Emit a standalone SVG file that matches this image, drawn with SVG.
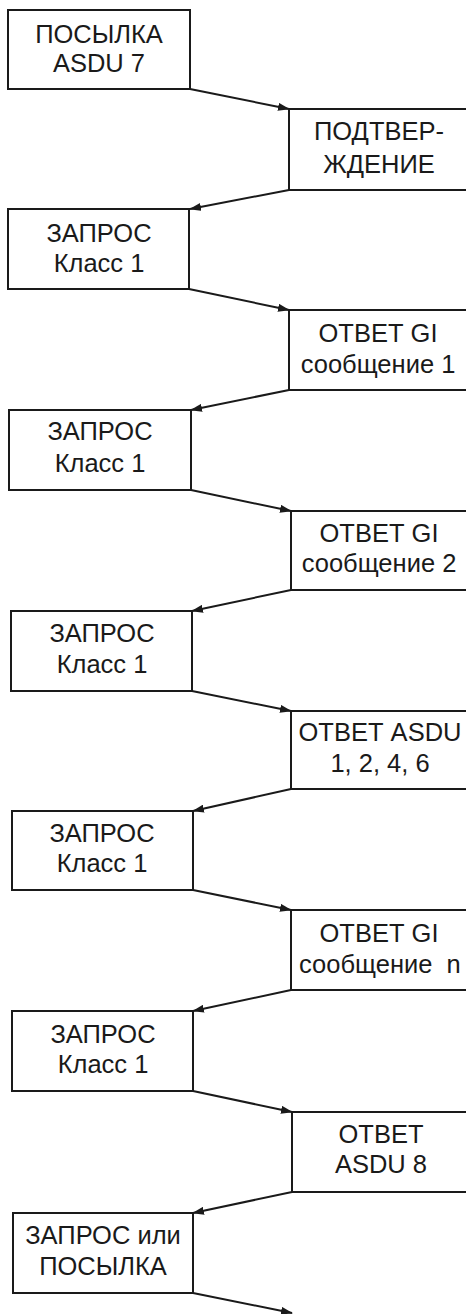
<svg xmlns="http://www.w3.org/2000/svg" width="466" height="1314" viewBox="0 0 466 1314">
<style>
.box{fill:#fff;stroke:#1a1a1a;stroke-width:2}
.t{font-family:"Liberation Sans",Arial,sans-serif;font-size:25.5px;fill:#1a1a1a;text-anchor:middle}
.c{stroke:#1a1a1a;stroke-width:2;fill:none;marker-end:url(#ah)}
</style>
<defs>
<marker id="ah" markerUnits="userSpaceOnUse" markerWidth="12" markerHeight="8" refX="11" refY="4" orient="auto">
<path d="M0,0 L12,4 L0,8 z" fill="#1a1a1a"/>
</marker>
</defs>
<rect width="466" height="1314" fill="#fff"/>
<g id="n1"><rect class="box" x="8" y="10" width="182" height="79"/><text class="t" x="99" y="43">ПОСЫЛКА</text><text class="t" x="99" y="72">ASDU 7</text></g>
<g id="n2"><rect class="box" x="289" y="109" width="200" height="81"/><text class="t" x="379" y="140">ПОДТВЕР-</text><text class="t" x="379" y="173">ЖДЕНИЕ</text></g>
<g id="n3"><rect class="box" x="8" y="209" width="181" height="80"/><text class="t" x="99" y="242">ЗАПРОС</text><text class="t" x="99" y="272">Класс 1</text></g>
<g id="n4"><rect class="box" x="289" y="310" width="200" height="80"/><text class="t" x="378" y="342">ОТВЕТ GI</text><text class="t" x="378" y="373">сообщение 1</text></g>
<g id="n5"><rect class="box" x="9" y="410" width="182" height="80"/><text class="t" x="100" y="440">ЗАПРОС</text><text class="t" x="100" y="472">Класс 1</text></g>
<g id="n6"><rect class="box" x="291" y="511" width="200" height="79"/><text class="t" x="379" y="542">ОТВЕТ GI</text><text class="t" x="379" y="572">сообщение 2</text></g>
<g id="n7"><rect class="box" x="11" y="611" width="181" height="80"/><text class="t" x="102" y="642">ЗАПРОС</text><text class="t" x="102" y="673">Класс 1</text></g>
<g id="n8"><rect class="box" x="291" y="711" width="200" height="78"/><text class="t" x="380" y="741">ОТВЕТ ASDU</text><text class="t" x="380" y="772">1, 2, 4, 6</text></g>
<g id="n9"><rect class="box" x="12" y="811" width="181" height="79"/><text class="t" x="102" y="842">ЗАПРОС</text><text class="t" x="102" y="872">Класс 1</text></g>
<g id="n10"><rect class="box" x="291" y="910" width="200" height="80"/><text class="t" x="379" y="942">ОТВЕТ GI</text><text class="t" x="299" y="973" style="text-anchor:start;white-space:pre">сообщение  n</text></g>
<g id="n11"><rect class="box" x="12" y="1011" width="181" height="80"/><text class="t" x="103" y="1043">ЗАПРОС</text><text class="t" x="103" y="1073">Класс 1</text></g>
<g id="n12"><rect class="box" x="292" y="1112" width="200" height="80"/><text class="t" x="381" y="1143">ОТВЕТ</text><text class="t" x="381" y="1173">ASDU 8</text></g>
<g id="n13"><rect class="box" x="13" y="1213" width="180" height="80"/><text class="t" x="103" y="1244">ЗАПРОС или</text><text class="t" x="103" y="1275">ПОСЫЛКА</text></g>
<g id="connectors">
<line class="c" x1="190" y1="89" x2="289" y2="109"/>
<line class="c" x1="289" y1="190" x2="190" y2="209"/>
<line class="c" x1="189" y1="289" x2="289" y2="310"/>
<line class="c" x1="289" y1="390" x2="191" y2="410"/>
<line class="c" x1="191" y1="490" x2="291" y2="511"/>
<line class="c" x1="291" y1="590" x2="192" y2="611"/>
<line class="c" x1="192" y1="691" x2="291" y2="711"/>
<line class="c" x1="291" y1="789" x2="193" y2="811"/>
<line class="c" x1="193" y1="890" x2="291" y2="910"/>
<line class="c" x1="291" y1="990" x2="193" y2="1011"/>
<line class="c" x1="193" y1="1091" x2="292" y2="1112"/>
<line class="c" x1="292" y1="1192" x2="193" y2="1213"/>
<line class="c" x1="193" y1="1293" x2="292" y2="1313"/>
</g>
</svg>
